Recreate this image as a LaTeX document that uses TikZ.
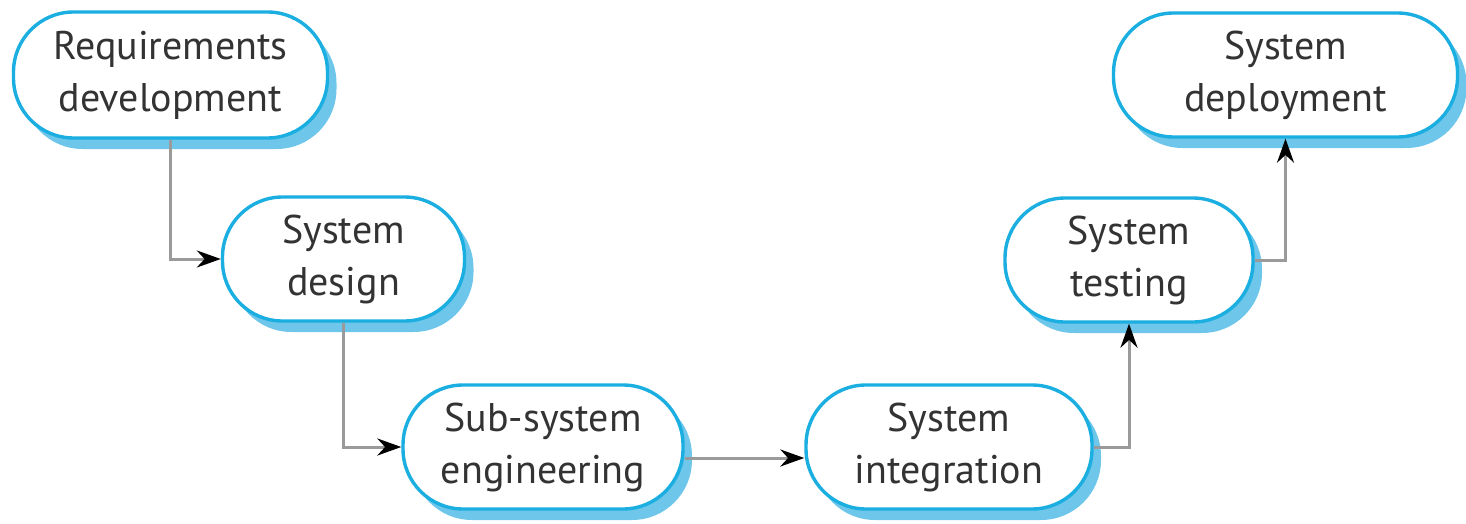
\documentclass[tikz,border=0pt]{standalone}
\usepackage{fontspec}
\setmainfont{PT Sans}
\usepackage{xcolor}
\usepackage{tikz}
\usetikzlibrary{arrows.meta, positioning, shapes, shadows, calc}

\definecolor{stageblue}{HTML}{1BAEE0}
\definecolor{shadeblue}{HTML}{6EC6EA}
\definecolor{linegray}{HTML}{9A9A9A}

\begin{document}
\begin{tikzpicture}[
    x=0.5pt, y=-0.5pt,
    stage/.style={
        rectangle,
        draw=stageblue,
        line width=1.7pt,
        fill=white,
        rounded corners=30pt,
        align=center,
        font=\fontsize{20}{26}\selectfont,
        text=black!80,
        minimum height=62pt,
        drop shadow={shadow xshift=4.5pt, shadow yshift=-5.5pt, fill=shadeblue, opacity=1}
    },
    arrow/.style={
        -{Stealth[length=12pt, width=8.5pt, black]},
        line width=1.5pt,
        color=linegray
    }
]
\useasboundingbox (0,0) rectangle (1466,524);

% Top row
\node[stage, minimum width=157pt, minimum height=63pt] (req) at (170.5,75) {Requirements\\development};
\node[stage, minimum width=172pt] (deploy) at (1285.5,75) {System\\deployment};

% Middle row
\node[stage, minimum width=121pt] (design) at (343.5,259) {System\\design};
\node[stage, minimum width=124pt] (test) at (1129,260) {System\\testing};

% Bottom row
\node[stage, minimum width=140pt] (sub) at (543,447) {Sub-system\\engineering};
\node[stage, minimum width=143pt] (integ) at (949,447) {System\\integration};

% Arrows
\draw[arrow] (req.south) |- (design.west);
\draw[arrow] (design.south) |- (sub.west);
\draw[arrow] ([yshift=-5.5pt]sub.east) -- ([yshift=-5.5pt]integ.west);
\draw[arrow] (integ.east) -| (test.south);
\draw[arrow] (test.east) -| (deploy.south);

\end{tikzpicture}
\end{document}
